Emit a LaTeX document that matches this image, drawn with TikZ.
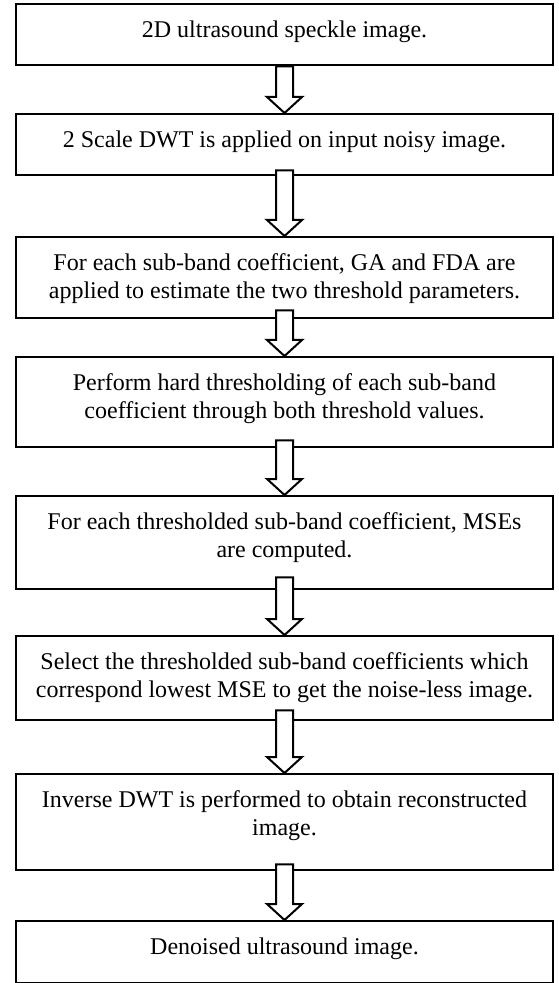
\documentclass[tikz,border=0pt]{standalone}
\usepackage{fontspec}
\setmainfont{Liberation Serif}
\usepackage{tikz}
\usetikzlibrary{calc}
\tikzset{>=latex}
\tikzset{procbox/.style={draw, line width=1.2pt, anchor=north, inner xsep=0pt, inner ysep=0pt,
    text width=268.5pt, align=flush center, text height=16.5pt, font=\fontsize{12pt}{14pt}\selectfont},
  blockarrow/.style={draw, line width=1pt, fill=white, line join=miter}}
\newcommand{\hollowarrow}[3]{%
\draw[blockarrow] ($(#1.south)+(-8.5,-#3)$) -- ($(#2.north)+(-8.5,-16)$) -- ($(#2.north)+(-17.5,-16)$)
  -- (#2.north) -- ($(#2.north)+(17.5,-16)$) -- ($(#2.north)+(8.5,-16)$) -- ($(#1.south)+(8.5,-#3)$) -- cycle;}

\begin{document}
\begin{tikzpicture}[x=0.5pt, y=-0.5pt]
\useasboundingbox (0,0) rectangle (558,983);
\node[procbox, text depth=14pt] (input) at (284.5,3) {2D ultrasound speckle image.};
\node[procbox, text depth=14pt] (dwt) at (284.5,113) {2 Scale DWT is applied on input noisy image.};
\node[procbox, text depth=24pt] (estim) at (284.5,236)
  {For each sub-band coefficient, GA and FDA are\\ applied to estimate the two threshold parameters.};
\node[procbox, text depth=28.5pt] (thresh) at (284.5,356)
  {Perform hard thresholding of each sub-band\\ coefficient through both threshold values.};
\node[procbox, text depth=30pt] (mse) at (284.5,495)
  {For each thresholded sub-band coefficient, MSEs\\ are computed.};
\node[procbox, text depth=25.5pt] (select) at (284.5,635)
  {Select the thresholded sub-band coefficients which\\ correspond lowest MSE to get the noise-less image.};
\node[procbox, text depth=31.5pt] (idwt) at (284.5,773)
  {Inverse DWT is performed to obtain reconstructed\\ image.};
\node[procbox, text depth=14.5pt] (output) at (284.5,920) {Denoised ultrasound image.};
\hollowarrow{input}{dwt}{0}
\hollowarrow{dwt}{estim}{6}
\hollowarrow{estim}{thresh}{9}
\hollowarrow{thresh}{mse}{8}
\hollowarrow{mse}{select}{13}
\hollowarrow{select}{idwt}{11}
\hollowarrow{idwt}{output}{7}
\end{tikzpicture}
\end{document}
